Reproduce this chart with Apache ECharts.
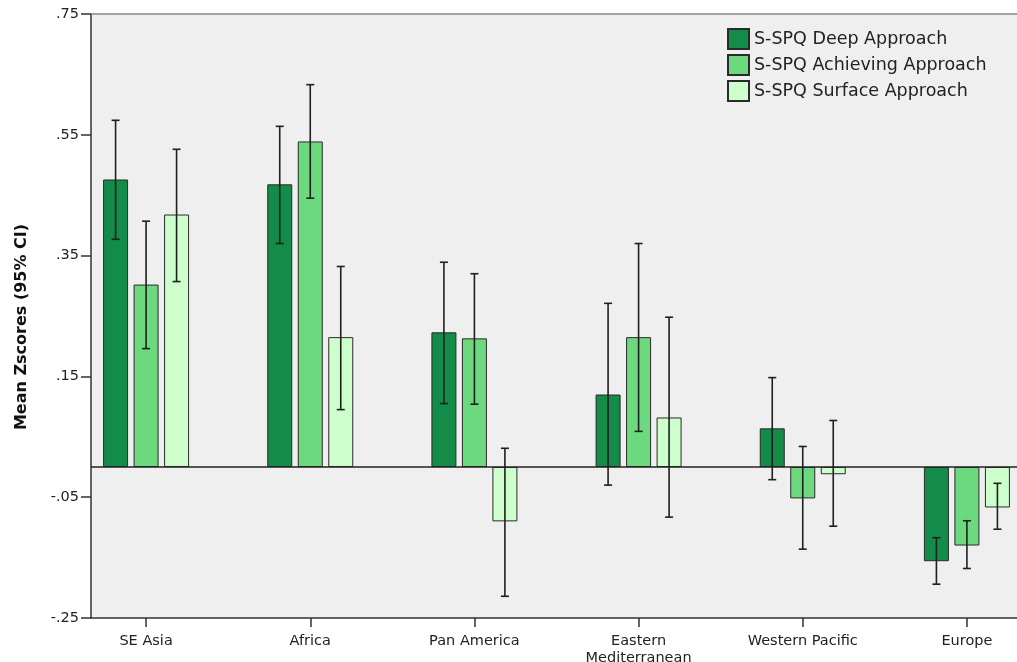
<!DOCTYPE html>
<html>
<head>
<meta charset="utf-8">
<script src="https://cdn.jsdelivr.net/npm/echarts@6/dist/echarts.min.js"></script>
<style>html,body{margin:0;padding:0;background:#fff;}#c{width:1017px;height:662px;}</style>
</head>
<body>
<div id="c"></div>
<script>
const categories = ['SE Asia', 'Africa', 'Pan America', 'Eastern\nMediterranean', 'Western Pacific', 'Europe'];
const seriesNames = ['S-SPQ Deep Approach', 'S-SPQ Achieving Approach', 'S-SPQ Surface Approach'];
const deep   = [0.476, 0.468, 0.223, 0.120, 0.064, -0.156];
const deepLo = [0.377, 0.370, 0.105, -0.030, -0.021, -0.194];
const deepHi = [0.574, 0.564, 0.339, 0.271, 0.148, -0.117];
const ach    = [0.302, 0.539, 0.213, 0.215, -0.052, -0.130];
const achLo  = [0.196, 0.445, 0.104, 0.059, -0.136, -0.168];
const achHi  = [0.407, 0.633, 0.320, 0.370, 0.034, -0.089];
const surf   = [0.418, 0.215, -0.090, 0.082, -0.012, -0.067];
const surfLo = [0.307, 0.095, -0.214, -0.083, -0.098, -0.103];
const surfHi = [0.526, 0.332, 0.031, 0.248, 0.077, -0.027];
const yTicks = [-0.25, -0.05, 0.15, 0.35, 0.55, 0.75];

const colors = ['#128c48', '#6dd97f', '#ccffcc'];
const BAR_W = 25, BAR_STEP = 30.5, CAP = 8;
const FONT = 'DejaVu Sans';

function fmt(v) {
  let s = (Math.round(v * 100) / 100).toFixed(2);
  return s.replace(/^(-?)0\./, '$1.');
}

function errSeries(idx, lo, hi) {
  return {
    type: 'custom',
    xAxisIndex: 0, yAxisIndex: 0,
    silent: true, z: 5,
    data: categories.map((c, i) => [i, lo[i], hi[i]]),
    renderItem: function (params, api) {
      const i = api.value(0);
      const pLo = api.coord([i, api.value(1)]);
      const pHi = api.coord([i, api.value(2)]);
      const x = pLo[0] + (idx - 1) * BAR_STEP;
      const st = { stroke: '#1f1f1f', lineWidth: 1.6 };
      return {
        type: 'group',
        children: [
          { type: 'line', shape: { x1: x, y1: pLo[1], x2: x, y2: pHi[1] }, style: st },
          { type: 'line', shape: { x1: x - CAP / 2, y1: pLo[1], x2: x + CAP / 2, y2: pLo[1] }, style: st },
          { type: 'line', shape: { x1: x - CAP / 2, y1: pHi[1], x2: x + CAP / 2, y2: pHi[1] }, style: st }
        ]
      };
    }
  };
}

function barSeries(idx, data) {
  return {
    name: seriesNames[idx],
    type: 'bar',
    xAxisIndex: 0, yAxisIndex: 0,
    data: data,
    barWidth: BAR_W,
    barGap: '22%',
    itemStyle: { color: colors[idx], borderColor: '#2a2a2a', borderWidth: 1 },
    z: 3
  };
}

const chart = echarts.init(document.getElementById('c'), null, { renderer: 'canvas' });
chart.setOption({
  animation: false,
  backgroundColor: '#ffffff',
  legend: {
    data: seriesNames,
    left: 722, top: 23,
    orient: 'vertical',
    itemWidth: 21, itemHeight: 20, itemGap: 4,
    icon: 'rect',
    textStyle: { fontFamily: FONT, fontSize: 17.5, color: '#222', lineHeight: 20 }
  },
  grid: [
    { left: 64, width: 985, top: 14, bottom: 44, containLabel: false, outerBoundsMode: 'none' },
    { left: 91, right: 0, top: 14, bottom: 44, show: true, backgroundColor: '#efefef', borderWidth: 0, z: 0, outerBoundsMode: 'none' }
  ],
  xAxis: [
    {
      type: 'category', gridIndex: 0, data: categories, boundaryGap: true,
      axisLine: { show: false, onZero: false },
      axisTick: { show: true, alignWithLabel: true, length: 9, lineStyle: { color: '#333', width: 1.5 } },
      axisLabel: { fontFamily: FONT, fontSize: 14.5, color: '#222', margin: 15, lineHeight: 17, interval: 0 },
      splitLine: { show: false }
    },
    {
      type: 'value', gridIndex: 1, min: 0, max: 1, position: 'bottom',
      axisLine: { show: true, onZero: false, lineStyle: { color: '#333', width: 1.5 } },
      axisTick: { show: false }, axisLabel: { show: false }, splitLine: { show: false }
    },
    {
      type: 'value', gridIndex: 1, min: 0, max: 1, position: 'top',
      axisLine: { show: true, onZero: false, lineStyle: { color: '#888', width: 1.5 } },
      axisTick: { show: false }, axisLabel: { show: false }, splitLine: { show: false }
    }
  ],
  yAxis: [
    {
      type: 'value', gridIndex: 0, min: -0.25, max: 0.75, interval: 0.2, show: false
    },
    {
      type: 'value', gridIndex: 1, min: yTicks[0], max: yTicks[yTicks.length - 1], interval: 0.2,
      name: 'Mean Zscores (95% CI)', nameLocation: 'middle', nameGap: 61, nameRotate: 90,
      nameTextStyle: { fontFamily: FONT, fontSize: 16, fontWeight: 'bold', color: '#111', padding: [0, 22, 0, 0] },
      axisLine: { show: true, onZero: false, lineStyle: { color: '#333', width: 1.5 } },
      axisTick: { show: true, length: 10, lineStyle: { color: '#333', width: 1.5 } },
      axisLabel: { fontFamily: FONT, fontSize: 14.5, color: '#222', margin: 12, formatter: fmt },
      splitLine: { show: false }
    }
  ],
  series: [
    barSeries(0, deep),
    barSeries(1, ach),
    barSeries(2, surf),
    errSeries(0, deepLo, deepHi),
    errSeries(1, achLo, achHi),
    errSeries(2, surfLo, surfHi),
    {
      type: 'line', xAxisIndex: 1, yAxisIndex: 1, data: [], silent: true, z: 4,
      markLine: {
        silent: true, symbol: 'none', label: { show: false },
        lineStyle: { color: '#222', width: 1.5, type: 'solid' },
        data: [{ yAxis: 0 }]
      }
    }
  ]
});
</script>
</body>
</html>
